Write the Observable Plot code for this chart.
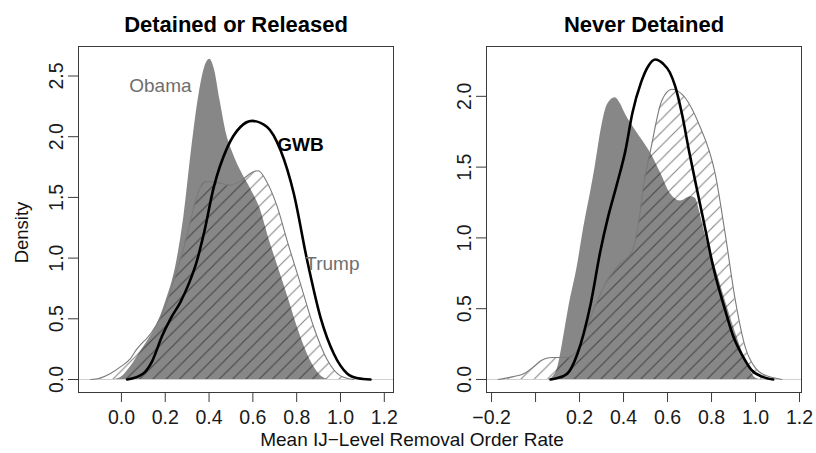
<!DOCTYPE html>
<html>
<head>
<meta charset="utf-8">
<script src="https://cdn.jsdelivr.net/npm/d3@7"></script>
<script src="https://cdn.jsdelivr.net/npm/@observablehq/plot@0.6"></script>
<style>
  body { margin: 0; background: #fff; }
  #chart { display: flex; width: 816px; height: 453px; }
  #chart svg { flex: none; overflow: visible; }
  #chart svg g[aria-label="x-axis tick label"],
  #chart svg g[aria-label="y-axis tick label"] { font-size: 19.5px; }
</style>
</head>
<body>
<div id="chart"></div>
<script>
// Kernel density estimates of the mean IJ-level removal order rate, by administration.
// Each series is a list of [rate, density] points.

const panelTitles = ["Detained or Released", "Never Detained"];
const xAxisTitle = "Mean IJ\u2212Level Removal Order Rate";
const yAxisTitle = "Density";

// Detained or Released
const detainedObama = [
  [-0.03, 0], [0.0, 0.02], [0.04, 0.1], [0.08, 0.21], [0.12, 0.32], [0.16, 0.44],
  [0.2, 0.63], [0.25, 0.95], [0.285, 1.34], [0.32, 1.89], [0.35, 2.3], [0.38, 2.57],
  [0.403, 2.637], [0.425, 2.55], [0.45, 2.3], [0.48, 2.02], [0.51, 1.86], [0.55, 1.7],
  [0.59, 1.57], [0.63, 1.42], [0.68, 1.12], [0.72, 0.9], [0.76, 0.68], [0.8, 0.45],
  [0.84, 0.25], [0.88, 0.1], [0.91, 0.03], [0.94, 0]
];
const detainedTrump = [
  [-0.14, 0], [-0.1, 0.01], [-0.05, 0.05], [0.0, 0.11], [0.04, 0.17], [0.07, 0.25],
  [0.094, 0.3], [0.117, 0.34], [0.16, 0.45], [0.2, 0.6], [0.25, 0.88], [0.29, 1.12],
  [0.32, 1.34], [0.34, 1.48], [0.36, 1.58], [0.39, 1.63], [0.45, 1.62], [0.49, 1.6],
  [0.54, 1.63], [0.6, 1.71], [0.625, 1.72], [0.66, 1.64], [0.71, 1.43], [0.757, 1.14],
  [0.817, 0.79], [0.878, 0.43], [0.94, 0.16], [1.0, 0.03], [1.06, 0]
];
const detainedGWB = [
  [0.026, 0], [0.1, 0.05], [0.14, 0.15], [0.186, 0.36], [0.224, 0.5], [0.27, 0.64],
  [0.31, 0.8], [0.345, 0.98], [0.376, 1.2], [0.421, 1.58], [0.483, 1.91], [0.543, 2.08],
  [0.597, 2.13], [0.665, 2.08], [0.726, 1.89], [0.787, 1.53], [0.848, 0.98], [0.909, 0.51],
  [0.97, 0.21], [1.03, 0.05], [1.08, 0.01], [1.137, 0]
];

// Never Detained
const neverObama = [
  [0.06, 0], [0.08, 0.02], [0.1, 0.08], [0.114, 0.18], [0.13, 0.32], [0.15, 0.5],
  [0.19, 0.8], [0.22, 1.08], [0.25, 1.32], [0.271, 1.5], [0.3, 1.78], [0.317, 1.9],
  [0.34, 1.97], [0.362, 1.99], [0.385, 1.95], [0.41, 1.87], [0.45, 1.77], [0.49, 1.68],
  [0.523, 1.6], [0.568, 1.46], [0.614, 1.31], [0.66, 1.26], [0.705, 1.29], [0.726, 1.28],
  [0.75, 1.16], [0.77, 1.03], [0.82, 0.78], [0.862, 0.56], [0.92, 0.28], [0.968, 0.09],
  [1.0, 0.01], [1.02, 0]
];
const neverTrump = [
  [-0.17, 0], [-0.1, 0.02], [-0.054, 0.04], [0.0, 0.1], [0.023, 0.13], [0.05, 0.15],
  [0.076, 0.155], [0.144, 0.155], [0.19, 0.2], [0.25, 0.44], [0.326, 0.7], [0.386, 0.82],
  [0.44, 0.91], [0.47, 1.12], [0.492, 1.38], [0.523, 1.62], [0.574, 1.97], [0.62, 2.05],
  [0.68, 1.99], [0.741, 1.81], [0.817, 1.45], [0.862, 1.03], [0.908, 0.56], [0.953, 0.23],
  [1.0, 0.08], [1.03, 0.04], [1.12, 0]
];
const neverGWB = [
  [0.068, 0], [0.1, 0.01], [0.144, 0.04], [0.19, 0.18], [0.25, 0.53], [0.295, 0.91],
  [0.33, 1.15], [0.37, 1.38], [0.409, 1.62], [0.44, 1.88], [0.48, 2.1], [0.515, 2.22],
  [0.544, 2.26], [0.58, 2.23], [0.61, 2.17], [0.635, 2.07], [0.665, 1.88], [0.697, 1.62],
  [0.73, 1.37], [0.76, 1.15], [0.81, 0.78], [0.86, 0.5], [0.9, 0.3], [0.94, 0.17],
  [0.98, 0.07], [1.03, 0.02], [1.08, 0]
];

// Axis ticks and their labels
const detainedXTicks = [0, 0.2, 0.4, 0.6, 0.8, 1.0, 1.2];
const detainedXTickLabels = ["0.0", "0.2", "0.4", "0.6", "0.8", "1.0", "1.2"];
const detainedYTicks = [0, 0.5, 1.0, 1.5, 2.0, 2.5];
const neverXTicks = [-0.2, 0, 0.2, 0.4, 0.6, 0.8, 1.0, 1.2];
const neverXTickLabels = ["\u22120.2", "", "0.2", "0.4", "0.6", "0.8", "1.0", "1.2"];
const neverYTicks = [0, 0.5, 1.0, 1.5, 2.0];

// Series labels placed inside the first panel, in data units
const seriesLabels = [
  {name: "Obama", x: 0.178, y: 2.42},
  {name: "GWB", x: 0.817, y: 1.936},
  {name: "Trump", x: 0.963, y: 0.955}
];

const font = "'Liberation Sans', Arial, Helvetica, sans-serif";
const px = d => d[0];
const py = d => d[1];

function panel({title, xDomain, yDomain, xTicks, xTickLabels, yTicks,
                obama, trump, gwb, hatchId, labels, withAxisTitles}) {
  const marks = [
    Plot.ruleY([0], {stroke: "#c4c4c4", strokeWidth: 0.8}),
    Plot.areaY(obama, {x: px, y: py, fill: "#878787", curve: "monotone-x"}),
    Plot.areaY(trump, {x: px, y: py, fill: `url(#${hatchId})`, curve: "monotone-x"}),
    Plot.lineY(trump, {x: px, y: py, stroke: "#7a7a7a", strokeWidth: 1.1, curve: "monotone-x"}),
    Plot.lineY(gwb, {x: px, y: py, stroke: "#000", strokeWidth: 2.6, curve: "monotone-x"}),
    Plot.frame({stroke: "#3a3a3a", strokeWidth: 1}),
    Plot.axisX({
      ticks: xTicks,
      tickFormat: d => xTickLabels[xTicks.indexOf(d)],
      tickSize: 10, tickPadding: 8, label: null,
      stroke: "#3a3a3a", fill: "#1a1a1a"
    }),
    Plot.axisY({
      ticks: yTicks,
      tickFormat: d3.format(".1f"),
      tickSize: 10, tickPadding: 6, tickRotate: -90, label: null,
      stroke: "#3a3a3a", fill: "#1a1a1a"
    }),
    Plot.text([title], {
      frameAnchor: "top", textAnchor: "middle", dy: -15, lineAnchor: "bottom",
      fontSize: 22, fontWeight: "bold", fill: "#000"
    })
  ];
  if (labels) {
    marks.push(
      Plot.text(labels.filter(d => d.name !== "GWB"), {
        x: "x", y: "y", text: "name", fill: "#6e6e6e", fontSize: 19
      }),
      Plot.text(labels.filter(d => d.name === "GWB"), {
        x: "x", y: "y", text: "name", fill: "#000", fontSize: 19, fontWeight: "bold"
      })
    );
  }
  if (withAxisTitles) {
    marks.push(
      Plot.text([yAxisTitle], {
        frameAnchor: "left", textAnchor: "middle", rotate: -90, dx: -51, dy: 13,
        lineAnchor: "bottom", fontSize: 18.5, fill: "#111"
      }),
      // shared x-axis title, centred under both panels
      Plot.text([xAxisTitle], {
        frameAnchor: "bottom", textAnchor: "middle", dx: 176, dy: 53,
        lineAnchor: "bottom", fontSize: 19, fill: "#111"
      })
    );
  }
  const svg = Plot.plot({
    width: 408, height: 453,
    marginLeft: 78, marginRight: 15, marginTop: 46, marginBottom: 61,
    x: {domain: xDomain},
    y: {domain: yDomain},
    style: {fontFamily: font, fontSize: "18px", background: "transparent"},
    marks
  });
  // diagonal hatching used to fill the Trump density
  const defs = d3.select(svg).insert("defs", ":first-child");
  const s = 13.3;
  const pat = defs.append("pattern")
    .attr("id", hatchId)
    .attr("patternUnits", "userSpaceOnUse")
    .attr("width", s).attr("height", s);
  pat.append("path")
    .attr("d", `M0,${s} L${s},0 M${-s / 2},${s / 2} L${s / 2},${-s / 2} M${s / 2},${s * 1.5} L${s * 1.5},${s / 2}`)
    .attr("stroke", "rgba(0,0,0,0.48)")
    .attr("stroke-width", 1.1)
    .attr("fill", "none");
  return svg;
}

const chart = document.getElementById("chart");
chart.append(panel({
  title: panelTitles[0],
  xDomain: [-0.196, 1.242], yDomain: [-0.107, 2.743],
  xTicks: detainedXTicks, xTickLabels: detainedXTickLabels, yTicks: detainedYTicks,
  obama: detainedObama, trump: detainedTrump, gwb: detainedGWB,
  hatchId: "hatch-detained", labels: seriesLabels, withAxisTitles: true
}));
chart.append(panel({
  title: panelTitles[1],
  xDomain: [-0.223, 1.209], yDomain: [-0.092, 2.352],
  xTicks: neverXTicks, xTickLabels: neverXTickLabels, yTicks: neverYTicks,
  obama: neverObama, trump: neverTrump, gwb: neverGWB,
  hatchId: "hatch-never", labels: null, withAxisTitles: false
}));
</script>
</body>
</html>
